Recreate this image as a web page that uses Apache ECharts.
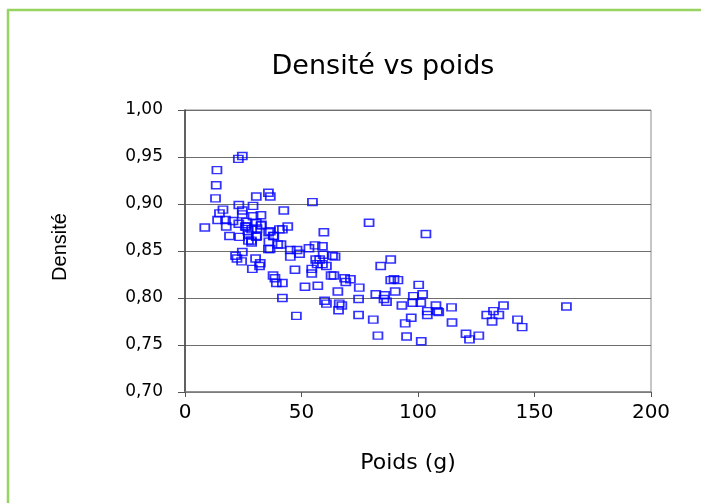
<!DOCTYPE html>
<html>
<head>
<meta charset="utf-8">
<script src="https://cdn.jsdelivr.net/npm/echarts@6/dist/echarts.min.js"></script>
<style>
  html, body { margin: 0; padding: 0; background: #fff; }
  #container { width: 701px; height: 503px; }
</style>
</head>
<body>
<div id="container"></div>
<script>
let chart = echarts.init(document.getElementById('container'));

// poids (g)
var poids = [
    24.6, 22.9, 13.7, 13.4, 13.1, 30.6, 35.8, 36.6, 54.7, 23.1,
    29.2, 16.3, 42.4, 24.6, 24.6, 14.8, 32.6, 29.2, 14.0, 17.4,
    20.6, 23.1, 26.3, 30.6, 32.6, 8.5, 17.7, 26.3, 28.6, 30.9,
    36.6, 44.1, 41.8, 59.6, 19.1, 23.4, 27.2, 30.6, 38.1, 27.2,
    28.6, 36.0, 39.8, 41.2, 35.8, 24.6, 45.2, 48.1, 53.2, 55.8,
    59.0, 21.7, 22.3, 30.3, 24.3, 32.3, 32.0, 28.9, 45.2, 49.2,
    56.1, 57.8, 59.3, 63.3, 64.4, 56.7, 59.0, 60.7, 47.2, 54.4,
    37.8, 38.6, 62.7, 63.9, 39.2, 41.8, 54.4, 51.5, 57.0, 68.5,
    69.0, 71.0, 41.8, 59.9, 60.7, 65.6, 66.2, 67.3, 65.9, 74.8,
    74.5, 47.8, 74.5, 80.8, 82.8, 84.0, 88.3, 81.9, 85.7, 85.4,
    86.5, 88.3, 89.7, 91.4, 90.2, 93.1, 98.0, 97.7, 94.5, 97.1,
    95.1, 100.3, 79.0, 103.4, 102.0, 101.2, 101.4, 107.7, 108.3, 104.0,
    104.0, 108.9, 114.4, 114.6, 120.6, 122.1, 126.1, 129.5, 131.8, 132.4,
    134.7, 136.7, 142.7, 144.7, 163.7, 27.0, 28.5, 30.8, 32.8, 25.9,
    35.9, 37.9, 36.5, 40.5
];
// densité
var densite = [
    0.951, 0.948, 0.936, 0.920, 0.906, 0.908, 0.912, 0.908, 0.902, 0.899,
    0.898, 0.894, 0.893, 0.893, 0.889, 0.890, 0.888, 0.887, 0.883, 0.883,
    0.882, 0.879, 0.881, 0.880, 0.877, 0.875, 0.876, 0.876, 0.873, 0.874,
    0.871, 0.876, 0.873, 0.870, 0.866, 0.865, 0.867, 0.865, 0.866, 0.861,
    0.859, 0.860, 0.857, 0.857, 0.852, 0.849, 0.851, 0.851, 0.853, 0.856,
    0.855, 0.845, 0.842, 0.842, 0.839, 0.837, 0.834, 0.831, 0.844, 0.847,
    0.841, 0.841, 0.846, 0.845, 0.844, 0.836, 0.836, 0.834, 0.830, 0.831,
    0.824, 0.821, 0.824, 0.824, 0.816, 0.816, 0.826, 0.812, 0.813, 0.821,
    0.817, 0.820, 0.800, 0.797, 0.794, 0.807, 0.794, 0.792, 0.787, 0.811,
    0.799, 0.781, 0.782, 0.777, 0.760, 0.834, 0.841, 0.804, 0.803, 0.799,
    0.796, 0.819, 0.820, 0.819, 0.807, 0.792, 0.802, 0.795, 0.773, 0.779,
    0.759, 0.814, 0.880, 0.868, 0.804, 0.795, 0.754, 0.792, 0.786, 0.786,
    0.782, 0.785, 0.790, 0.774, 0.762, 0.756, 0.760, 0.782, 0.775, 0.786,
    0.782, 0.792, 0.777, 0.769, 0.791, 0.871, 0.861, 0.866, 0.878, 0.876,
    0.870, 0.866, 0.852, 0.873
];

var points = poids.map((p, i) => [p, densite[i]]);

var option = {
    animation: false,
    title: {
        text: 'Densité vs poids',
        left: 378,
        top: 48,
        textAlign: 'center',
        textStyle: {
            fontFamily: 'DejaVu Sans',
            fontSize: 27,
            fontWeight: 'normal',
            color: '#000'
        }
    },
    graphic: [
        { type: 'line', shape: { x1: 7, y1: 10, x2: 701, y2: 10 }, style: { stroke: '#96d35f', lineWidth: 2.5 } },
        { type: 'line', shape: { x1: 8, y1: 10, x2: 8, y2: 503 }, style: { stroke: '#96d35f', lineWidth: 2.5 } }
    ],
    grid: {
        left: 185,
        right: 50,
        top: 110,
        bottom: 111,
        show: true,
        borderColor: '#8c8c8c',
        borderWidth: 1
    },
    xAxis: {
        type: 'value',
        min: 0,
        max: 200,
        interval: 50,
        name: 'Poids (g)',
        nameLocation: 'middle',
        nameGap: 60,
        nameTextStyle: { fontFamily: 'DejaVu Sans', fontSize: 22, color: '#000', padding: [0, 20, 0, 0] },
        axisLine: { show: true, lineStyle: { color: '#808080', width: 1.5 } },
        axisTick: { show: true, length: 5, lineStyle: { color: '#555' } },
        axisLabel: { margin: 11, fontFamily: 'DejaVu Sans', fontSize: 20, color: '#000' },
        splitLine: { show: false }
    },
    yAxis: {
        type: 'value',
        min: 0.70,
        max: 1.00,
        interval: 0.05,
        name: 'Densité',
        nameLocation: 'middle',
        nameGap: 115,
        nameTextStyle: { fontFamily: 'Liberation Sans', fontSize: 20, color: '#000', padding: [0, 0, 0, 8] },
        axisLine: { show: true, lineStyle: { color: '#404040', width: 1.5 } },
        axisTick: { show: true, length: 7, lineStyle: { color: '#555' } },
        axisLabel: {
            margin: 22,
            fontFamily: 'DejaVu Sans',
            fontSize: 17,
            color: '#000',
            formatter: function (value) {
                return value.toFixed(2).replace('.', ',');
            }
        },
        splitLine: { show: true, lineStyle: { color: '#6e6e6e', width: 1.2 } }
    },
    series: [{
        name: 'Densité',
        type: 'scatter',
        symbol: 'rect',
        symbolSize: [9, 7],
        itemStyle: {
            color: 'rgba(255,255,255,0)',
            borderColor: '#0000ff',
            borderWidth: 1.6
        },
        data: points
    }]
};

chart.setOption(option);
</script>
</body>
</html>
